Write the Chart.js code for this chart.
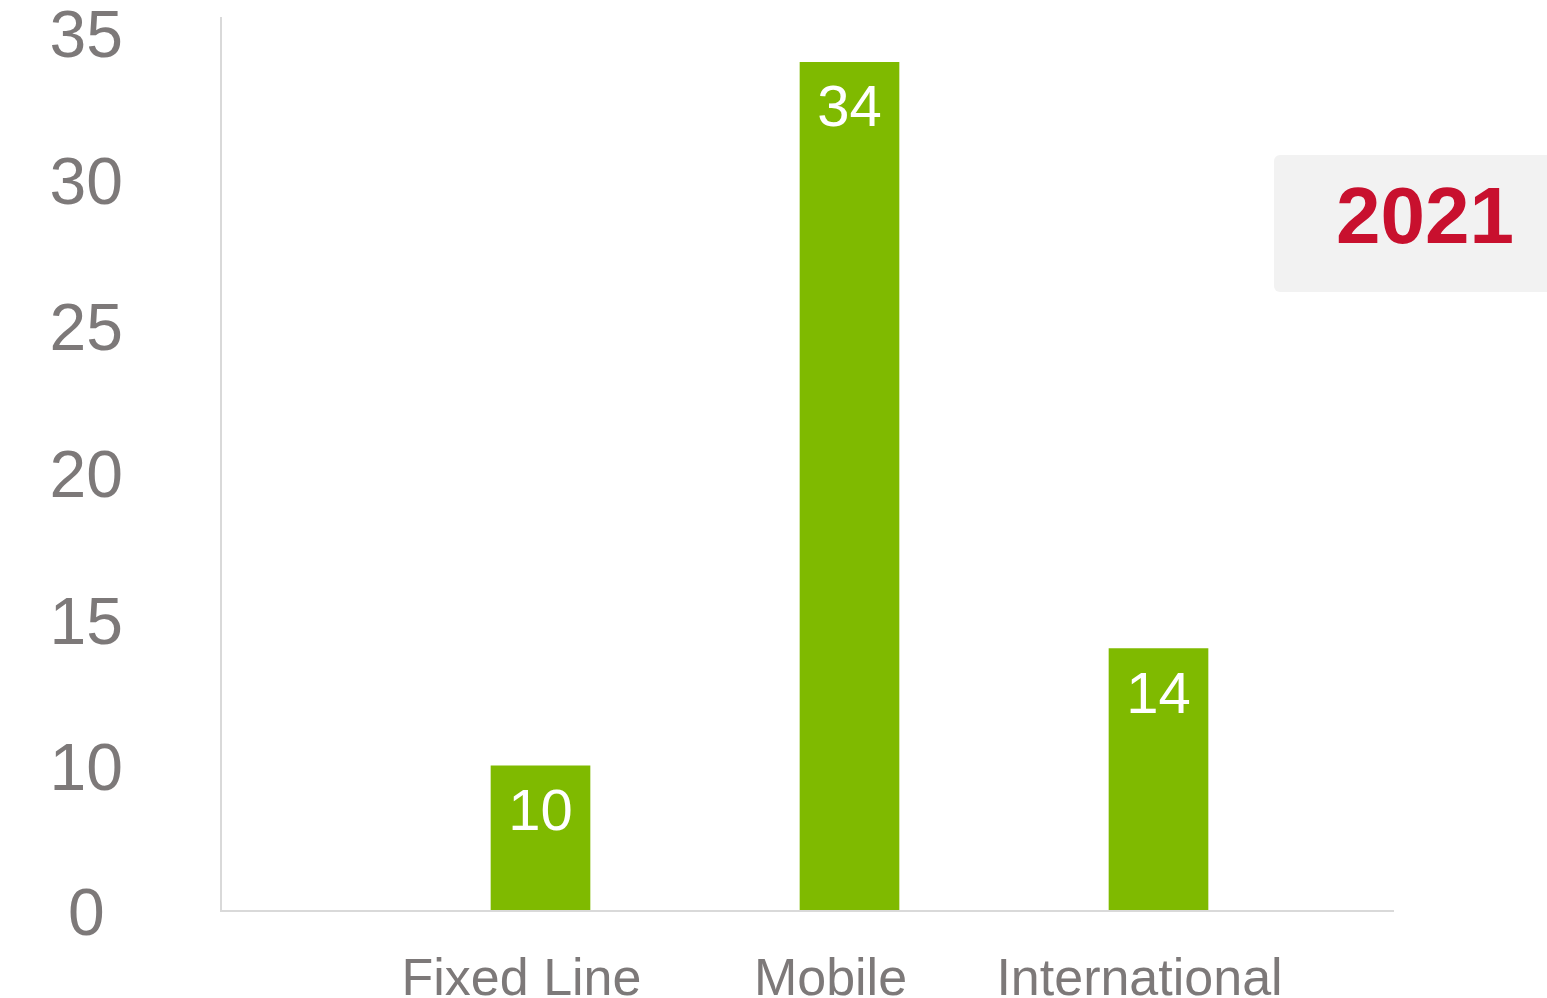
<!DOCTYPE html>
<html>
<head>
<meta charset="utf-8">
<title>2021</title>
<script src="https://cdn.jsdelivr.net/npm/chart.js@4.4.0/dist/chart.umd.min.js"></script>
<style>
  html, body { margin: 0; padding: 0; background: #fff; }
  #wrap { position: relative; width: 1547px; height: 998px; }
</style>
</head>
<body>
<div id="wrap"><canvas id="chart"></canvas></div>
<script>
// Data
const categories = ['Fixed Line', 'Mobile', 'International'];
const values = [10, 34, 14];
const yTicks = [0, 10, 15, 20, 25, 30, 35];
const badgeText = '2021';

// Colors
const colors = {
    bar: '#7FBA00',
    axisText: '#7D7979',
    axisLine: '#D9D9D9',
    badgeBg: '#F2F2F2',
    badgeText: '#C8102E'
};

const fontFamily = '"Liberation Sans", Arial, sans-serif';

// The value axis is broken below 10, the "0" label sits on the baseline
const yMin = 5.05;
const yMax = 35.55;

// Light grey axis lines
const axisLines = {
    id: 'axisLines',
    afterDatasetsDraw(chart) {
        const { ctx, chartArea } = chart;
        ctx.save();
        ctx.strokeStyle = colors.axisLine;
        ctx.lineWidth = 2;
        ctx.beginPath();
        ctx.moveTo(221, chartArea.top);
        ctx.lineTo(221, chartArea.bottom);
        ctx.lineTo(1394, chartArea.bottom);
        ctx.stroke();
        ctx.restore();
    }
};

// White value labels inside the bars
const barLabels = {
    id: 'barLabels',
    afterDatasetsDraw(chart) {
        const { ctx } = chart;
        const meta = chart.getDatasetMeta(0);
        ctx.save();
        ctx.fillStyle = '#FFFFFF';
        ctx.font = '58px ' + fontFamily;
        ctx.textAlign = 'center';
        ctx.textBaseline = 'alphabetic';
        meta.data.forEach((bar, i) => {
            ctx.fillText(String(values[i]), bar.x, bar.y + 64);
        });
        ctx.restore();
    }
};

// Year badge at the top right
const badge = {
    id: 'badge',
    afterDraw(chart) {
        const { ctx } = chart;
        ctx.save();
        ctx.fillStyle = colors.badgeBg;
        ctx.beginPath();
        ctx.roundRect(1274, 155, 290, 137, 6);
        ctx.fill();
        ctx.fillStyle = colors.badgeText;
        ctx.font = 'bold 80px ' + fontFamily;
        ctx.textAlign = 'left';
        ctx.textBaseline = 'alphabetic';
        ctx.fillText(badgeText, 1336, 243);
        ctx.restore();
    }
};

new Chart(document.getElementById('chart'), {
    type: 'bar',
    data: {
        labels: categories,
        datasets: [{
            data: values,
            backgroundColor: colors.bar,
            barThickness: 99
        }]
    },
    options: {
        responsive: true,
        maintainAspectRatio: false,
        animation: false,
        layout: {
            padding: { top: 17, right: 234, left: 0, bottom: 0 }
        },
        plugins: {
            legend: { display: false },
            tooltip: { enabled: false }
        },
        scales: {
            x: {
                offset: true,
                grid: { display: false, drawTicks: false },
                border: { display: false },
                ticks: {
                    color: colors.axisText,
                    font: { size: 52, family: fontFamily },
                    padding: 38,
                    labelOffset: -19,
                    maxRotation: 0,
                    autoSkip: false
                },
                afterFit(scale) {
                    scale.height = 87;
                    scale.paddingLeft = 0;
                    scale.paddingRight = 0;
                }
            },
            y: {
                min: yMin,
                max: yMax,
                grid: { display: false, drawTicks: false },
                border: { display: false },
                afterBuildTicks(scale) {
                    scale.ticks = yTicks.map(v => ({ value: Math.max(v, yMin) }));
                },
                ticks: {
                    color: colors.axisText,
                    font: { size: 66, family: fontFamily },
                    padding: 263,
                    crossAlign: 'center',
                    autoSkip: false,
                    labelOffset: 6,
                    callback: (value, index) => yTicks[index]
                },
                afterFit(scale) {
                    scale.width = 386;
                    scale.paddingTop = 0;
                    scale.paddingBottom = 0;
                }
            }
        }
    },
    plugins: [axisLines, barLabels, badge]
});
</script>
</body>
</html>
